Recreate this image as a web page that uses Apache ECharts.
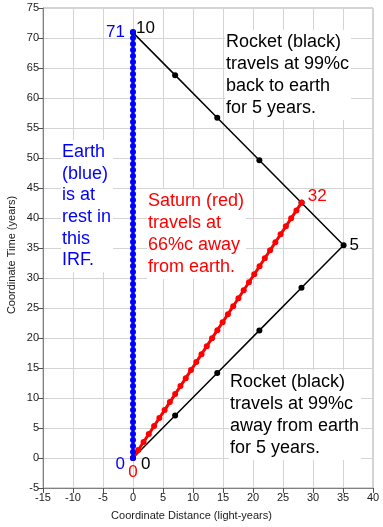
<!DOCTYPE html>
<html><head><meta charset="utf-8">
<script src="https://cdn.jsdelivr.net/npm/echarts@6/dist/echarts.min.js"></script>
<style>html,body{margin:0;padding:0;background:#fff}#c{width:383px;height:527px}</style>
</head><body><div id="c"></div>
<script>
// Earth worldline (x = 0), one dot per Earth year
const earthT = [0,1,2,3,4,5,6,7,8,9,10,11,12,13,14,15,16,17,18,19,20,21,22,23,24,25,26,27,28,29,30,31,32,33,34,35,36,37,38,39,40,41,42,43,44,45,46,47,48,49,50,51,52,53,54,55,56,57,58,59,60,61,62,63,64,65,66,67,68,69,70,71];
// Saturn worldline, one dot per Saturn year (0..32)
const saturnX = [0,0.88,1.76,2.64,3.52,4.39,5.27,6.15,7.03,7.91,8.79,9.67,10.55,11.42,12.30,13.18,14.06,14.94,15.82,16.70,17.57,18.45,19.33,20.21,21.09,21.97,22.85,23.73,24.60,25.48,26.36,27.24,28.12];
const saturnT = [0,1.33,2.66,3.99,5.33,6.66,7.99,9.32,10.65,11.98,13.31,14.65,15.98,17.31,18.64,19.97,21.30,22.63,23.97,25.30,26.63,27.96,29.29,30.62,31.95,33.29,34.62,35.95,37.28,38.61,39.94,41.27,42.60];
// Rocket worldline, one dot per rocket year (0..10)
const rocketX = [0,7.02,14.04,21.06,28.08,35.1,28.08,21.06,14.04,7.02,0];
const rocketT = [0,7.09,14.18,21.27,28.36,35.45,42.54,49.63,56.72,63.81,70.9];
// clock labels
const earthLabels = {start:'0', end:'71'};
const saturnLabels = {start:'0', end:'32'};
const rocketLabels = {start:'0', turn:'5', end:'10'};
const xTicks = {min:-15, max:40, step:5};
const yTicks = {min:-5, max:75, step:5};

const lblFont = {fontFamily:'Liberation Sans, Arial, sans-serif', fontSize:17};
function lab(text, color, pos, off){
  return Object.assign({show:true, formatter:text, color:color, position:pos, distance:3, offset:off||[0,0]}, lblFont);
}
const earthData = earthT.map((t,i)=>{
  const d = {value:[0,t]};
  if(i===0) d.label = lab(earthLabels.start,'#0000ff','left',[-2,6]);
  if(i===earthT.length-1) d.label = lab(earthLabels.end,'#0000ff','left',[-2,0]);
  return d;
});
const saturnData = saturnX.map((x,i)=>{
  const d = {value:[x,saturnT[i]]};
  if(i===0) d.label = lab(saturnLabels.start,'#ff0000','bottom',[0,0]);
  if(i===saturnX.length-1) d.label = lab(saturnLabels.end,'#ff0000','right',[0,-6]);
  return d;
});
const rocketData = rocketX.map((x,i)=>{
  const d = {value:[x,rocketT[i]]};
  if(i===0) d.label = lab(rocketLabels.start,'#000','right',[2,6]);
  if(i===5) d.label = lab(rocketLabels.turn,'#000','right',[0,0]);
  if(i===rocketX.length-1) d.label = lab(rocketLabels.end,'#000','right',[-3,-4]);
  return d;
});

const chart = echarts.init(document.getElementById('c'), null, {renderer:'canvas'});
const axisFont = {fontFamily:'Liberation Sans, Arial, sans-serif', fontSize:11, color:'#1a1a1a'};
const textFont = '18px "Liberation Sans", Arial, sans-serif';
chart.setOption({
  animation:false,
  grid:{left:43, right:10, top:8, bottom:39, show:true, borderColor:'#a8a8a8', borderWidth:1},
  xAxis:{type:'value', min:xTicks.min, max:xTicks.max, interval:xTicks.step,
    axisLine:{show:true, onZero:false, lineStyle:{color:'#808080'}},
    axisTick:{show:true, length:5, lineStyle:{color:'#505050'}},
    axisLabel:Object.assign({margin:4}, axisFont),
    splitLine:{show:true, lineStyle:{color:'#d4d4d4'}}},
  yAxis:{type:'value', min:yTicks.min, max:yTicks.max, interval:yTicks.step,
    axisLine:{show:true, onZero:false, lineStyle:{color:'#808080'}},
    axisTick:{show:true, length:5, lineStyle:{color:'#505050'}},
    axisLabel:Object.assign({margin:4}, axisFont),
    splitLine:{show:true, lineStyle:{color:'#d4d4d4'}}},
  graphic:[
    {type:'text', left:'center', top:510, z:100, style:{text:'Coordinate Distance (light-years)', font:'11px "Liberation Sans", Arial, sans-serif', fill:'#1a1a1a'}},
    {type:'text', x:12, y:255, rotation:Math.PI/2, z:100, style:{text:'Coordinate Time (years)', font:'11px "Liberation Sans", Arial, sans-serif', fill:'#1a1a1a', align:'center', verticalAlign:'middle'}},
    {type:'text', x:225, y:30, z:5, style:{text:'Rocket (black)\ntravels at 99%c\nback to earth\nfor 5 years.', font:textFont, fill:'#000', lineHeight:22, backgroundColor:'#fff', padding:[1,2,1,1]}},
    {type:'text', x:61, y:140, z:5, style:{text:'Earth\n(blue)\nis at\nrest in\nthis\nIRF.', font:textFont, fill:'#0000ff', lineHeight:21.7, backgroundColor:'#fff', padding:[1,2,1,1]}},
    {type:'text', x:147, y:189, z:5, style:{text:'Saturn (red)\ntravels at\n66%c away\nfrom earth.', font:textFont, fill:'#ff0000', lineHeight:22, backgroundColor:'#fff', padding:[1,2,1,1]}},
    {type:'text', x:229, y:370, z:5, style:{text:'Rocket (black)\ntravels at 99%c\naway from earth\nfor 5 years.', font:textFont, fill:'#000', lineHeight:22, backgroundColor:'#fff', padding:[1,2,1,1]}}
  ],
  series:[
    {type:'line', data:rocketData, z:10, symbol:'circle', symbolSize:6, showAllSymbol:true,
     lineStyle:{color:'#000', width:1.5}, itemStyle:{color:'#000'}},
    {type:'line', data:saturnData, z:11, symbol:'circle', symbolSize:6, showAllSymbol:true,
     lineStyle:{color:'#ff0000', width:3}, itemStyle:{color:'#ff0000'}},
    {type:'line', data:earthData, z:12, symbol:'circle', symbolSize:6, showAllSymbol:true,
     lineStyle:{color:'#0000ff', width:3}, itemStyle:{color:'#0000ff'}}
  ]
});
</script></body></html>
